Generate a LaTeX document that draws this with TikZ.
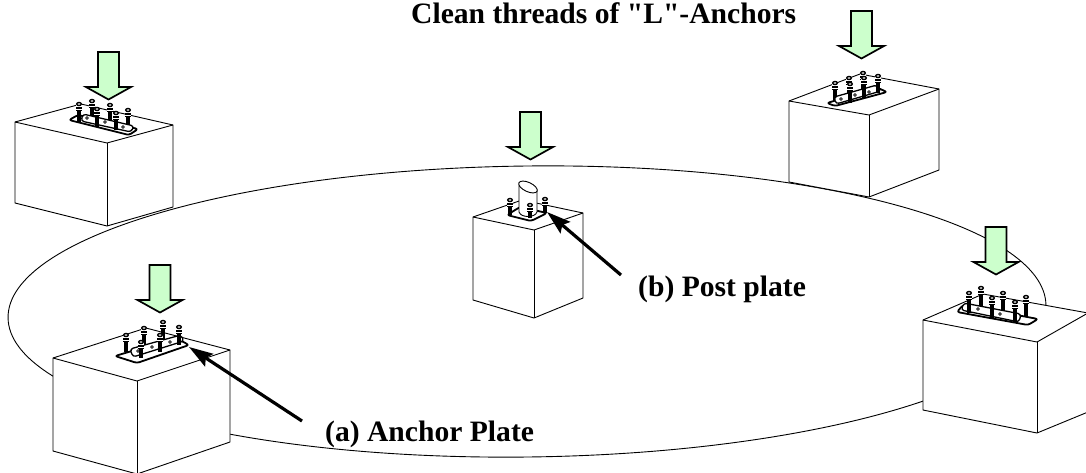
\documentclass[tikz,border=0pt]{standalone}
\usepackage{fontspec}
\setmainfont{Liberation Serif}[Ligatures=TeXOff]
\usetikzlibrary{arrows.meta}
\definecolor{arrowgreen}{HTML}{CCFFCC}
\tikzset{
  edge/.style={draw=black,line width=0.9pt,line join=miter},
  cubeface/.style={edge,fill=white},
  ringline/.style={draw=black,line width=0.9pt},
  blockarrow/.style={draw=black,line width=1.7pt,fill=arrowgreen,line join=miter},
  pointer/.style={draw=black,line width=3.2pt,-{Stealth[length=24pt,width=15pt,inset=4pt]}},
  label/.style={inner sep=0pt,anchor=base west,font=\fontsize{29.6}{34}\selectfont\bfseries},
  plateshape/.style={draw=black,line width=1.8pt,fill=white,rounded corners=2.5pt,line join=round},
  bracket/.style={draw=black,line width=1.3pt,fill=white,rounded corners=3pt,line join=round},
  boltpic/.pic={
    \begin{scope}[x=1pt,y=-1pt]
      \fill[black] (-2,-#1) rectangle (2,0);
      \fill[white] (-3.2,-#1-0.2) rectangle (3.2,-#1+7);
      \fill[black] (-2.7,-#1+5.6) rectangle (2.7,-#1+7.4);
      \fill[black] (-2.7,-#1+3) rectangle (2.7,-#1+4.8);
      \draw[black,line width=1.4pt,fill=white] (0,-#1) ellipse (2.3 and 1.5);
    \end{scope}}
}
% lx ltop lbot fx ftop fbot rx rtop rbot bx by
\newcommand{\cubeat}[9]{\def\cubeA{#1}\def\cubeB{#2}\def\cubeC{#3}\def\cubeD{#4}\def\cubeE{#5}\def\cubeF{#6}\def\cubeG{#7}\def\cubeH{#8}\def\cubeI{#9}\cubeatrest}
\newcommand{\cubeatrest}[2]{%
  \draw[cubeface] (\cubeA,\cubeB) -- (#1,#2) -- (\cubeG,\cubeH) -- (\cubeG,\cubeI) -- (\cubeD,\cubeF) -- (\cubeA,\cubeC) -- cycle;
  \draw[edge] (\cubeA,\cubeB) -- (\cubeD,\cubeE) -- (\cubeG,\cubeH);
  \draw[edge] (\cubeD,\cubeE) -- (\cubeD,\cubeF);}
% block arrow: centre x, top y
\newcommand{\blockdown}[2]{%
  \draw[blockarrow] (#1-10.5,#2) -- (#1+10.5,#2) -- (#1+10.5,#2+35) -- (#1+22.5,#2+35)
    -- (#1,#2+47.5) -- (#1-22.5,#2+35) -- (#1-10.5,#2+35) -- cycle;}
\newcommand{\plategeom}[8]{\draw[plateshape] (#1,#2) -- (#3,#4) -- (#5,#6) -- (#7,#8) -- cycle;}
\newcommand{\bracketgeom}[8]{\draw[bracket] (#1,#2) -- (#3,#4) -- (#5,#6) -- (#7,#8) -- cycle;}
\newcommand{\bolt}[3]{\pic at (#1,#2) {boltpic=#3};}
\newcommand{\hole}[2]{\draw[black,line width=0.7pt,fill=white] (#1,#2) circle (1.3);}
\begin{document}
\begin{tikzpicture}[x=1pt,y=-1pt]
\useasboundingbox (0,0) rectangle (1086,472);
\clip (0,0) rectangle (1086,472);

% ring
\draw[ringline,rotate around={0.7:(527,311.5)}] (527,311.5) ellipse (519 and 145.5);

% footings
\cubeat{15}{122}{203}{107}{143}{226}{173}{125}{207}{81}{104}
\cubeat{473}{217}{300}{534}{230}{318}{583}{213}{298}{522}{200}
\cubeat{53}{358}{451}{137}{381}{474}{230}{350}{442}{146}{328}
\cubeat{789}{101}{182}{869}{115}{197}{939}{89}{170}{860}{74}
\cubeat{923}{320}{410}{1037}{342}{433}{1088}{313}{412}{983}{294}

% plate on footing A
\bolt{92}{118}{17}\bolt{110}{122}{17}\bolt{128}{127}{17}
\plategeom{69}{120}{78}{115}{138}{129}{129}{135}
\bracketgeom{83}{114}{134}{126}{131}{132}{81}{121}
\hole{87}{118}\hole{105}{122}\hole{123}{127}
\bolt{79}{123}{19}\bolt{97}{127}{18}\bolt{116}{130}{17}

% plate on footing C
\bolt{126}{352}{17}\bolt{144}{347}{19}\bolt{163}{341}{19}
\plategeom{115}{356}{137}{363}{189}{345}{176}{338}
\bracketgeom{130}{349}{181}{335}{184}{341}{133}{357}
\hole{138}{351}\hole{152}{347}\hole{170}{342}
\bolt{141}{358}{16}\bolt{160}{352}{17}\bolt{179}{345}{18}

% plate on footing D
\bolt{835}{100}{17}\bolt{849}{96}{18}\bolt{863}{91}{18}
\plategeom{827}{103}{835}{106}{887}{92}{878}{88}
\bracketgeom{834}{97}{877}{85}{881}{91}{836}{104}
\hole{841}{99}\hole{855}{95}\hole{869}{92}
\bolt{850}{103}{19}\bolt{864}{98}{20}\bolt{878}{93}{17}

% plate on footing E
\bolt{981}{308}{20}\bolt{1003}{313}{20}\bolt{1026}{317}{20}
\plategeom{957}{312}{963}{305}{1038}{319}{1028}{325}
\bracketgeom{964}{303}{1021}{314}{1019}{322}{961}{310}
\hole{978}{309}\hole{1000}{314}
\bolt{969}{313}{20}\bolt{992}{318}{20}\bolt{1015}{323}{21}

% post plate on footing B
\draw[plateshape] (507,215) -- (520,207) -- (547,213) -- (531,221) -- cycle;
\bolt{510}{215}{15}
\draw[edge,fill=white] (519,186) -- (519,212) .. controls (521,218) and (535,218) .. (537,212) -- (537,190) -- cycle;
\draw[edge,fill=white,rotate around={-25:(528,187)}] (528,187) ellipse (10 and 4.6);
\bolt{530}{218}{13}\bolt{545}{213}{14}

% load arrows
\blockdown{108.5}{52}
\blockdown{530.5}{112}
\blockdown{160}{265}
\blockdown{861.5}{11}
\blockdown{996}{227}

% leaders
\coordinate (atail) at (302,421);
\coordinate (atip) at (189,347);
\coordinate (btail) at (621,275);
\coordinate (btip) at (547,212);
\draw[pointer] (atail) -- (atip);
\draw[pointer] (btail) -- (btip);

% labels
\node[label] (title) at (411,23) {Clean threads of "L"-Anchors};
\node[label] (blabel) at (638,296) {(b) Post plate};
\node[label] (alabel) at (325,441) {(a) Anchor Plate};
\end{tikzpicture}
\end{document}
